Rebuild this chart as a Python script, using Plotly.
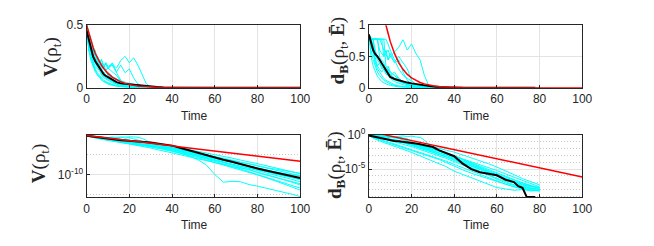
import plotly.graph_objects as go

# ---------------- data (log10 of the plotted quantity) ----------------
T_V = [0, 1, 2, 3, 4, 5, 6, 7, 8, 9, 10,
       12, 14, 16, 18, 20, 22, 24, 26, 28, 30,
       33, 36, 40, 44, 48, 52, 56, 60, 64, 68, 72, 76, 80, 84, 88, 92, 96, 100]

T_D = [0, 1, 2, 3, 4, 5, 6, 7, 8, 9, 10,
       12, 14, 16, 18, 20, 22, 24, 26, 28, 30,
       33, 36, 40, 44, 48, 52, 56, 60, 64, 68, 72, 76, 80]

T_D_MEAN = [0, 1, 2, 3, 4, 5, 6, 7, 8, 9, 10,
            12, 14, 16, 18, 20, 22, 24, 26, 28, 30,
            33, 36, 40, 44, 48, 52, 56, 60, 64, 68, 70, 72, 74, 76, 78]

# V(rho_t) single trajectories, log10 values
v_traj_01 = [-0.30, -0.38, -0.46, -0.52, -0.57, -0.62, -0.70, -0.66, -0.74, -0.70, -0.77,
             -0.72, -0.80, -0.66, -0.60, -0.70, -0.62, -0.74, -1.00, -1.52, -2.10,
             -2.60, -3.00, -3.40, -3.90, -4.30, -4.80, -5.20, -5.60, -6.10, -6.50, -7.00, -7.30, -7.80, -8.30, -8.60, -9.00, -9.40, -9.70]
v_traj_02 = [-0.30, -0.42, -0.52, -0.57, -0.62, -0.70, -0.74, -0.70, -0.77, -0.72, -0.80,
             -0.74, -0.92, -1.22, -1.52, -1.92, -2.20, -2.40, -2.55, -2.70, -2.85,
             -3.10, -3.40, -3.80, -4.20, -4.70, -5.10, -5.60, -6.00, -6.50, -6.90, -7.40, -7.90, -8.30, -8.80, -9.30, -9.70, -10.10, -10.40]
v_traj_03 = [-0.30, -0.52, -0.60, -0.70, -0.82, -0.92, -1.00, -1.10, -1.22, -1.30, -1.40,
             -1.60, -1.82, -2.00, -2.20, -2.40, -2.60, -2.80, -3.00, -3.20, -3.40,
             -3.80, -4.10, -4.60, -5.10, -5.60, -6.10, -6.60, -7.00, -7.50, -8.00, -8.40, -8.70, -9.50, -10.00, -10.60, -11.20, -11.70, -12.30]
v_traj_04 = [-0.30, -0.46, -0.55, -0.60, -0.66, -0.70, -0.80, -0.82, -0.92, -0.89, -1.00,
             -1.10, -1.22, -1.30, -1.40, -1.52, -1.70, -1.82, -2.00, -2.15, -2.30,
             -2.60, -2.90, -3.30, -3.80, -4.30, -4.80, -5.30, -5.80, -6.40, -6.90, -7.50, -8.00, -8.60, -9.10, -9.70, -10.30, -10.80, -11.30]
v_traj_05 = [-0.30, -0.50, -0.62, -0.74, -0.85, -1.00, -1.05, -1.15, -1.30, -1.35, -1.46,
             -1.60, -1.75, -1.90, -2.05, -2.20, -2.35, -2.50, -2.65, -2.80, -2.95,
             -3.30, -3.60, -4.10, -4.70, -5.40, -6.30, -7.60, -10.00, -11.90, -11.70, -11.80, -12.50, -12.90, -13.40, -13.90, -14.30, -14.90, -15.50]
v_traj_06 = [-0.30, -0.40, -0.52, -0.66, -0.70, -0.77, -0.89, -0.96, -1.05, -1.10, -1.15,
             -1.30, -1.46, -1.52, -1.70, -1.85, -2.00, -2.15, -2.30, -2.45, -2.60,
             -2.90, -3.20, -3.60, -4.10, -4.60, -5.20, -5.80, -6.40, -7.00, -7.60, -8.20, -8.80, -9.40, -10.00, -10.60, -11.20, -11.90, -12.60]
v_traj_07 = [-0.30, -0.35, -0.42, -0.48, -0.55, -0.60, -0.66, -0.72, -0.80, -0.85, -0.92,
             -1.05, -1.15, -1.26, -1.35, -1.46, -1.60, -1.70, -1.82, -1.96, -2.10,
             -2.35, -2.60, -3.00, -3.40, -3.80, -4.20, -4.70, -5.10, -5.50, -5.90, -6.40, -6.80, -7.30, -7.80, -8.30, -8.80, -9.30, -9.80]
v_traj_08 = [-0.30, -0.48, -0.59, -0.68, -0.77, -0.82, -0.85, -1.00, -1.10, -1.15, -1.22,
             -1.40, -1.52, -1.70, -1.82, -2.00, -2.15, -2.30, -2.45, -2.60, -2.75,
             -3.00, -3.30, -3.80, -4.30, -4.90, -5.50, -6.10, -6.70, -7.30, -8.00, -8.60, -9.30, -10.00, -10.60, -11.30, -12.00, -12.70, -13.40]
v_traj_09 = [-0.30, -0.52, -0.66, -0.77, -0.89, -0.96, -1.10, -1.22, -1.30, -1.40, -1.52,
             -1.70, -1.90, -2.05, -2.20, -2.35, -2.50, -2.65, -2.80, -2.95, -3.10,
             -3.40, -3.70, -4.20, -4.70, -5.20, -5.80, -6.40, -7.00, -7.60, -8.20, -8.80, -9.40, -10.10, -10.80, -11.50, -12.30, -13.10, -13.90]
v_traj_10 = [-0.30, -0.40, -0.48, -0.52, -0.62, -0.70, -0.77, -0.85, -0.92, -1.00, -1.07,
             -1.22, -1.35, -1.52, -1.70, -1.82, -1.95, -2.10, -2.25, -2.40, -2.55,
             -2.80, -3.10, -3.50, -3.95, -4.40, -4.90, -5.40, -5.90, -6.40, -6.90, -7.50, -8.10, -8.60, -9.20, -9.80, -10.30, -10.60, -11.00]
v_traj_11 = [-0.30, -0.44, -0.52, -0.60, -0.70, -0.77, -0.72, -0.82, -0.74, -0.85, -0.80,
             -0.89, -1.00, -1.30, -1.70, -2.00, -2.25, -2.45, -2.65, -2.85, -3.00,
             -3.30, -3.60, -4.00, -4.50, -5.00, -5.50, -6.00, -6.50, -7.00, -7.40, -7.90, -8.40, -8.90, -9.30, -9.80, -10.20, -10.70, -11.10]
v_traj_12 = [-0.30, -0.40, -0.49, -0.55, -0.66, -0.60, -0.70, -0.64, -0.80, -0.70, -0.82,
             -0.70, -0.89, -0.74, -0.92, -0.82, -1.10, -1.52, -1.82, -2.10, -2.30,
             -2.60, -2.90, -3.30, -3.70, -4.20, -4.60, -5.10, -5.50, -6.00, -6.40, -6.90, -7.40, -7.90, -8.40, -8.90, -9.40, -9.90, -10.30]
v_traj_13 = [-0.30, -0.52, -0.49, -0.55, -0.52, -0.66, -0.74, -0.92, -1.00, -1.10, -1.15,
             -1.30, -1.52, -1.70, -1.85, -2.00, -2.15, -2.30, -2.45, -2.60, -2.75,
             -3.00, -3.30, -3.70, -4.20, -4.70, -5.20, -5.70, -6.20, -6.80, -7.40, -7.90, -8.50, -9.00, -9.60, -10.10, -10.70, -11.20, -11.80]
v_mean = [-0.34, -0.42, -0.50, -0.60, -0.67, -0.73, -0.78, -0.85, -0.97, -1.02, -1.07,
          -1.20, -1.34, -1.45, -1.50, -1.56, -1.65, -1.72, -1.82, -1.93, -2.02,
          -2.25, -2.50, -2.80, -3.40, -4.00, -4.60, -5.20, -5.85, -6.30, -6.80, -7.40, -8.00, -8.50, -9.00, -9.50, -9.90, -10.50, -10.85]
v_bound = [-0.30, -0.36, -0.43, -0.49, -0.56, -0.62, -0.68, -0.75, -0.81, -0.88, -0.94,
           -1.07, -1.20, -1.32, -1.45, -1.58, -1.71, -1.84, -1.96, -2.09, -2.22,
           -2.41, -2.60, -2.86, -3.12, -3.37, -3.63, -3.88, -4.14, -4.40, -4.65, -4.91, -5.16, -5.42, -5.68, -5.93, -6.19, -6.44, -6.70]

# Bures distance single trajectories, log10 values
d_traj_01 = [-0.07, -0.10, -0.11, -0.11, -0.115, -0.11, -0.155, -0.22, -0.26, -0.22, -0.30,
             -0.24, -0.19, -0.115, -0.22, -0.155, -0.26, -0.35, -0.70, -1.40, -1.70,
             -2.00, -2.20, -2.50, -2.90, -3.30, -3.70, -4.20, -4.70, -5.20, -5.80, -6.40, -6.90, -7.30]
d_traj_02 = [-0.07, -0.10, -0.11, -0.11, -0.11, -0.22, -0.26, -0.30, -0.26, -0.35, -0.30,
             -0.38, -0.30, -0.40, -0.52, -0.92, -1.30, -1.52, -1.70, -1.85, -2.00,
             -2.30, -2.60, -3.00, -3.50, -3.90, -4.40, -4.80, -5.20, -5.70, -6.20, -6.70, -7.20, -7.60]
d_traj_03 = [-0.07, -0.11, -0.11, -0.40, -0.52, -0.60, -0.70, -0.82, -0.92, -1.00, -1.10,
             -1.30, -1.52, -1.70, -1.92, -2.10, -2.30, -2.50, -2.70, -2.90, -3.10,
             -3.40, -3.80, -4.30, -4.80, -5.30, -5.80, -6.30, -6.80, -7.20, -7.60, -7.90, -8.10, -8.20]
d_traj_04 = [-0.07, -0.11, -0.11, -0.11, -0.11, -0.11, -0.11, -0.11, -0.46, -0.52, -0.60,
             -0.70, -0.82, -1.00, -1.10, -1.22, -1.40, -1.55, -1.70, -1.85, -2.00,
             -2.30, -2.60, -3.10, -3.60, -4.10, -4.60, -5.00, -5.50, -6.00, -6.50, -7.00, -7.40, -7.80]
d_traj_05 = [-0.07, -0.155, -0.30, -0.40, -0.46, -0.52, -0.60, -0.52, -0.66, -0.70, -0.82,
             -1.00, -1.15, -1.30, -1.46, -1.70, -1.90, -2.10, -2.30, -2.50, -2.70,
             -3.00, -3.40, -3.90, -4.40, -4.90, -5.40, -5.90, -6.40, -6.90, -7.30, -7.60, -7.90, -8.00]
d_traj_06 = [-0.07, -0.11, -0.11, -0.11, -0.11, -0.30, -0.40, -0.46, -0.52, -0.46, -0.60,
             -0.70, -0.92, -1.10, -1.30, -1.52, -1.75, -1.95, -2.15, -2.35, -2.55,
             -2.85, -3.20, -3.70, -4.20, -4.80, -5.30, -5.90, -6.50, -7.00, -7.40, -7.80, -8.00, -8.10]
d_traj_07 = [-0.07, -0.22, -0.35, -0.46, -0.60, -0.70, -0.82, -0.92, -1.00, -1.10, -1.22,
             -1.40, -1.60, -1.80, -2.00, -2.20, -2.45, -2.65, -2.85, -3.05, -3.25,
             -3.60, -4.00, -4.60, -5.10, -5.60, -6.00, -6.50, -6.90, -7.30, -7.60, -7.90, -8.10, -8.20]
d_traj_08 = [-0.07, -0.30, -0.46, -0.60, -0.74, -0.85, -1.00, -1.10, -1.22, -1.30, -1.40,
             -1.60, -1.85, -2.05, -2.30, -2.55, -2.80, -3.05, -3.30, -3.55, -3.80,
             -4.20, -4.60, -5.30, -5.80, -6.30, -6.80, -7.30, -7.70, -7.90, -8.10, -8.00, -8.20, -8.10]
d_traj_09 = [-0.07, -0.11, -0.155, -0.26, -0.35, -0.40, -0.48, -0.55, -0.60, -0.70, -0.74,
             -0.89, -1.00, -1.15, -1.30, -1.40, -1.52, -1.65, -1.80, -1.95, -2.10,
             -2.40, -2.75, -3.30, -3.80, -4.30, -4.80, -5.40, -5.90, -6.40, -6.90, -7.30, -7.60, -7.70]
d_traj_10 = [-0.07, -0.11, -0.11, -0.22, -0.30, -0.35, -0.35, -0.40, -0.52, -0.60, -0.66,
             -0.82, -0.92, -1.00, -1.19, -1.35, -1.52, -1.70, -1.90, -2.10, -2.30,
             -2.60, -2.95, -3.50, -4.00, -4.50, -5.10, -5.60, -6.10, -6.60, -7.00, -7.40, -7.80, -7.90]
d_traj_11 = [-0.07, -0.11, -0.11, -0.11, -0.11, -0.11, -0.11, -0.30, -0.22, -0.35, -0.26,
             -0.40, -0.35, -0.60, -0.92, -1.22, -1.46, -1.65, -1.85, -2.05, -2.25,
             -2.55, -2.90, -3.40, -3.90, -4.40, -4.90, -5.40, -5.90, -6.40, -6.80, -7.20, -7.50, -7.70]
d_traj_12 = [-0.07, -0.11, -0.22, -0.35, -0.46, -0.40, -0.52, -0.46, -0.60, -0.52, -0.70,
             -0.60, -0.82, -1.10, -1.30, -1.52, -1.72, -1.90, -2.10, -2.30, -2.50,
             -2.80, -3.10, -3.60, -4.10, -4.60, -5.10, -5.60, -6.10, -6.60, -7.10, -7.50, -7.80, -8.00]
d_traj_13 = [-0.07, -0.11, -0.11, -0.11, -0.11, -0.11, -0.11, -0.11, -0.11, -0.155, -0.22,
             -0.35, -0.52, -0.70, -0.82, -1.00, -1.22, -1.40, -1.60, -1.80, -2.00,
             -2.30, -2.60, -3.10, -3.60, -4.20, -4.70, -5.20, -5.70, -6.20, -6.70, -7.10, -7.50, -7.80]
d_mean = [-0.07, -0.14, -0.22, -0.27, -0.30, -0.35, -0.41, -0.49, -0.57, -0.66, -0.76,
          -0.85, -0.92, -0.98, -1.08, -1.15, -1.22, -1.35, -1.46, -1.60, -1.75,
          -2.25, -2.60, -3.10, -4.20, -5.00, -5.45, -5.70, -5.90, -6.55, -6.90, -7.50, -7.75, -9.10, -9.15, -9.10]
d_bound = [0.54, 0.47, 0.41, 0.34, 0.27, 0.21, 0.14, 0.07, 0.00, -0.06, -0.13,
           -0.26, -0.40, -0.53, -0.67, -0.80, -0.93, -1.07, -1.20, -1.34, -1.47,
           -1.67, -1.87, -2.14, -2.41, -2.68, -2.94, -3.21, -3.48, -3.75, -4.02, -4.28, -4.55, -4.82, -5.09, -5.36, -5.62, -5.89, -6.16]

V_TRAJS = [v_traj_01, v_traj_02, v_traj_03, v_traj_04, v_traj_05, v_traj_06, v_traj_07,
           v_traj_08, v_traj_09, v_traj_10, v_traj_11, v_traj_12, v_traj_13]
D_TRAJS = [d_traj_01, d_traj_02, d_traj_03, d_traj_04, d_traj_05, d_traj_06, d_traj_07,
           d_traj_08, d_traj_09, d_traj_10, d_traj_11, d_traj_12, d_traj_13]

X_TICKS = [0, 20, 40, 60, 80, 100]

# ---------------- styling ----------------
CYAN = "#00FFFF"
RED = "#FF0000"
BLACK = "#000000"
AX = "#262626"
GRID = "#e3e3e3"
MINOR_GRID = "#c8c8c8"
TICKFONT = dict(family="Liberation Sans, Arial, sans-serif", size=12, color=AX)
SERIF = "Liberation Serif, Times New Roman, serif"

fig = go.Figure()


def add_line(xa, ya, t, logvals, color, width):
    fig.add_trace(go.Scatter(
        x=t, y=[10 ** v for v in logvals], mode="lines",
        line=dict(color=color, width=width),
        xaxis=xa, yaxis=ya, showlegend=False, hoverinfo="skip"))


for xa, ya in [("x", "y"), ("x3", "y3")]:
    for tr in V_TRAJS:
        add_line(xa, ya, T_V, tr, CYAN, 1)
    add_line(xa, ya, T_V, v_mean, BLACK, 2)
    add_line(xa, ya, T_V, v_bound, RED, 1.5)

for xa, ya in [("x2", "y2"), ("x4", "y4")]:
    for tr in D_TRAJS:
        add_line(xa, ya, T_D, tr, CYAN, 1)
    add_line(xa, ya, T_D_MEAN, d_mean, BLACK, 2)
    add_line(xa, ya, T_V, d_bound, RED, 1.5)

XL = [85.3 / 654, 303.3 / 654]
XR = [373.3 / 654, 591.0 / 654]
YT = [1 - 85.0 / 246, 1 - 18.3 / 246]
YB = [1 - 201.7 / 246, 1 - 135.0 / 246]

common_x = dict(range=[0, 100], tickvals=X_TICKS, showgrid=True, gridcolor=GRID,
                gridwidth=1, showline=True, linecolor=AX, linewidth=1, mirror=True,
                ticks="inside", ticklen=3, tickcolor=AX, tickfont=TICKFONT,
                zeroline=False)
common_y = dict(showline=True, linecolor=AX, linewidth=1, mirror=True,
                ticks="inside", ticklen=3, tickcolor=AX, tickfont=TICKFONT,
                zeroline=False, gridcolor=GRID, gridwidth=1)

fig.update_layout(
    width=654, height=246,
    margin=dict(l=0, r=0, t=0, b=0),
    paper_bgcolor="white", plot_bgcolor="white",
    xaxis=dict(domain=XL, anchor="y", **common_x),
    xaxis2=dict(domain=XR, anchor="y2", **common_x),
    xaxis3=dict(domain=XL, anchor="y3", **common_x),
    xaxis4=dict(domain=XR, anchor="y4", **common_x),
    yaxis=dict(domain=YT, anchor="x", range=[0, 0.5], tickvals=[0, 0.5],
               ticktext=["0", "0.5"], showgrid=False, **common_y),
    yaxis2=dict(domain=YT, anchor="x2", range=[0, 1], tickvals=[0, 0.5, 1],
                ticktext=["0", "0.5", "1"], showgrid=True, **common_y),
    yaxis3=dict(domain=YB, anchor="x3", type="log", range=[-15.7, -0.1],
                tickvals=[1e-10], ticktext=["10<sup>-10</sup>"], showgrid=True,
                minor=dict(tickvals=[1e-5, 1e-15], showgrid=True, griddash="1px,2px",
                           gridcolor=MINOR_GRID, ticks=""),
                **common_y),
    yaxis4=dict(domain=YB, anchor="x4", type="log", range=[-9.15, 0.05],
                tickvals=[1e-5, 1], ticktext=["10<sup>-5</sup>", "10<sup>0</sup>"],
                showgrid=True,
                minor=dict(tickvals=[1e-1, 1e-2, 1e-3, 1e-4, 1e-6, 1e-7, 1e-8, 1e-9],
                           showgrid=True, griddash="1px,2px", gridcolor=MINOR_GRID,
                           ticks=""),
                **common_y),
)

V_LABEL = "<b>V</b>(ρ<sub>t</sub>)"
D_LABEL = "<b>d</b><sub><b>B</b></sub>(ρ<sub>t</sub>, <b>Ē</b>)"


def ann(text, xpx, ypx, size, family, angle=0):
    fig.add_annotation(text=text, x=xpx / 654, y=1 - ypx / 246, xref="paper",
                       yref="paper", showarrow=False, textangle=angle,
                       font=dict(family=family, size=size, color=AX),
                       xanchor="center", yanchor="middle")


ann(V_LABEL, 50, 52, 19, SERIF, -90)
ann(D_LABEL, 343, 46, 19, SERIF, -90)
ann(V_LABEL, 38, 165, 19, SERIF, -90)
ann(D_LABEL, 340, 168, 19, SERIF, -90)
for xc, yc in [(195, 115), (483, 115), (195, 231), (483, 231)]:
    ann("Time", xc, yc, 12, "Liberation Sans, Arial, sans-serif")

fig.write_html(
    "out.html",
    config={"displayModeBar": False},
    post_script="document.body.style.margin='0px';document.body.style.overflow='hidden';",
)
